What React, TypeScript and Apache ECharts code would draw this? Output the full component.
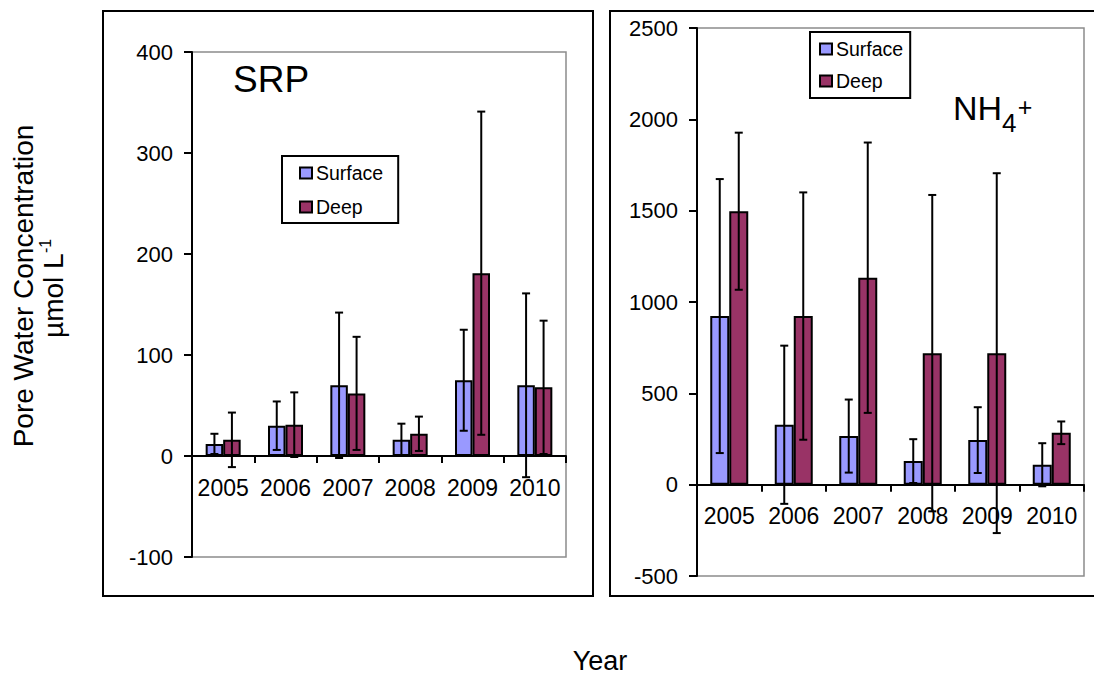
import React, { useEffect, useRef } from 'react';
import * as echarts from 'echarts';

const years = ['2005', '2006', '2007', '2008', '2009', '2010'];
const seriesNames = ['Surface', 'Deep'];

const srpSurface = [12, 30, 70, 16, 75, 70];
const srpSurfaceErr = [10, 24, 72, 16, 50, 91];
const srpDeep = [16, 31, 62, 22, 181, 68];
const srpDeepErr = [27, 32, 56, 17, 160, 66];

const nh4Surface = [923, 328, 266, 129, 244, 109];
const nh4SurfaceErr = [750, 433, 200, 120, 180, 118];
const nh4Deep = [1497, 923, 1133, 720, 720, 284];
const nh4DeepErr = [430, 677, 740, 866, 985, 62];

const srpAxis = { min: -100, max: 400, interval: 100 };
const nh4Axis = { min: -500, max: 2500, interval: 500 };

const FONT = "'Liberation Sans', Arial, sans-serif";
const SURFACE_COLOR = '#9999FF';
const DEEP_COLOR = '#993366';

const grids = [
  { left: 192, top: 52, width: 374, height: 505 },
  { left: 697, top: 28, width: 387, height: 548 },
];

function errSeries(idx: number, means: number[], errs: number[], offset: number) {
  return {
    type: 'custom',
    xAxisIndex: idx,
    yAxisIndex: idx,
    z: 5,
    silent: true,
    clip: false,
    data: means.map((m, i) => [i, m - errs[i], m + errs[i]]),
    encode: { x: 0, y: [1, 2] },
    renderItem: (params: any, api: any) => {
      const c = api.value(0);
      const p1 = api.coord([c, api.value(1)]);
      const p2 = api.coord([c, api.value(2)]);
      const x = p1[0] + offset;
      const st = { stroke: '#000', lineWidth: 2 };
      return {
        type: 'group',
        children: [
          { type: 'line', shape: { x1: x, y1: p1[1], x2: x, y2: p2[1] }, style: st },
          { type: 'line', shape: { x1: x - 4, y1: p1[1], x2: x + 4, y2: p1[1] }, style: st },
          { type: 'line', shape: { x1: x - 4, y1: p2[1], x2: x + 4, y2: p2[1] }, style: st },
        ],
      };
    },
  };
}

function barSeries(idx: number, name: string, data: number[], color: string, width: number) {
  return {
    type: 'bar',
    name,
    xAxisIndex: idx,
    yAxisIndex: idx,
    data,
    barWidth: width,
    barGap: '0%',
    itemStyle: { color, borderColor: '#000', borderWidth: 2 },
  };
}

function xAxisCfg(idx: number, ax: { min: number; max: number }) {
  // place the category axis on the value 0 line of its grid
  const zeroOffset = -(grids[idx].height * (0 - ax.min)) / (ax.max - ax.min);
  return {
    type: 'category',
    gridIndex: idx,
    data: years,
    position: 'bottom',
    offset: zeroOffset,
    axisLine: { show: true, onZero: false, lineStyle: { color: '#000', width: 2 } },
    axisTick: { show: true, length: 7, lineStyle: { color: '#000', width: 2 } },
    axisLabel: { color: '#000', fontSize: 23, fontFamily: FONT, margin: 20, interval: 0 },
    splitLine: { show: false },
  };
}

function yAxisCfg(idx: number, ax: { min: number; max: number; interval: number }) {
  return {
    type: 'value',
    gridIndex: idx,
    min: ax.min,
    max: ax.max,
    interval: ax.interval,
    axisLine: { show: true, lineStyle: { color: '#000', width: 2 } },
    axisTick: { show: true, length: 8, lineStyle: { color: '#000', width: 2 } },
    axisLabel: { color: '#000', fontSize: 22, fontFamily: FONT, margin: 19, formatter: (v: number) => String(v) },
    splitLine: { show: false },
  };
}

export default function App() {
  const ref = useRef<HTMLDivElement>(null);
  useEffect(() => {
    if (!ref.current) return;
    const chart = echarts.init(ref.current, undefined, { renderer: 'svg' });
    const legendBase = {
      data: seriesNames,
      orient: 'vertical',
      itemWidth: 12,
      itemHeight: 11,
      itemStyle: { borderColor: '#000', borderWidth: 2 },
      icon: 'rect',
      borderColor: '#000',
      borderWidth: 2,
      textStyle: { color: '#000', fontSize: 19.5, fontFamily: FONT, lineHeight: 20, padding: [0, 0, 0, -1] },
      selectedMode: false,
    };
    const option: any = {
      animation: false,
      backgroundColor: '#fff',
      grid: grids.map((g) => ({
        ...g,
        show: true,
        borderColor: '#8c8c8c',
        borderWidth: 1.5,
        backgroundColor: 'transparent',
        outerBoundsMode: 'none',
      })),
      xAxis: [xAxisCfg(0, srpAxis), xAxisCfg(1, nh4Axis)],
      yAxis: [yAxisCfg(0, srpAxis), yAxisCfg(1, nh4Axis)],
      legend: [
        { ...legendBase, left: 282, top: 156, padding: [7, 15, 6, 17], itemGap: 14 },
        { ...legendBase, left: 810, top: 32, padding: [7, 7, 7, 9], itemGap: 12 },
      ],
      series: [
        barSeries(0, 'Surface', srpSurface, SURFACE_COLOR, 17.5),
        barSeries(0, 'Deep', srpDeep, DEEP_COLOR, 17.5),
        errSeries(0, srpSurface, srpSurfaceErr, -8.75),
        errSeries(0, srpDeep, srpDeepErr, 8.75),
        barSeries(1, 'Surface', nh4Surface, SURFACE_COLOR, 19),
        barSeries(1, 'Deep', nh4Deep, DEEP_COLOR, 19),
        errSeries(1, nh4Surface, nh4SurfaceErr, -9.5),
        errSeries(1, nh4Deep, nh4DeepErr, 9.5),
      ],
      graphic: [
        { type: 'rect', shape: { x: 103, y: 11, width: 490, height: 585 }, style: { fill: 'none', stroke: '#000', lineWidth: 2 }, z: 0 },
        { type: 'rect', shape: { x: 610, y: 11, width: 500, height: 585 }, style: { fill: 'none', stroke: '#000', lineWidth: 2 }, z: 0 },
        { type: 'text', x: 233, y: 79, style: { text: 'SRP', fontSize: 37, fontFamily: FONT, fill: '#000', verticalAlign: 'middle', align: 'left' } },
        { type: 'text', x: 953, y: 108, style: { text: 'NH', fontSize: 34, fontFamily: FONT, fill: '#000', verticalAlign: 'middle', align: 'left' } },
        { type: 'text', x: 1002, y: 123, style: { text: '4', fontSize: 26, fontFamily: FONT, fill: '#000', verticalAlign: 'middle', align: 'left' } },
        { type: 'text', x: 1025, y: 107, style: { text: '+', fontSize: 25, fontFamily: FONT, fill: '#000', verticalAlign: 'middle', align: 'center' } },
        { type: 'text', x: 600, y: 661, style: { text: 'Year', fontSize: 27, fontFamily: FONT, fill: '#000', verticalAlign: 'middle', align: 'center' } },
        {
          type: 'group',
          x: 38,
          y: 286,
          rotation: Math.PI / 2,
          children: [
            { type: 'text', x: 0, y: -15, style: { text: 'Pore Water Concentration', fontSize: 28, fontFamily: FONT, fill: '#000', verticalAlign: 'middle', align: 'center' } },
            { type: 'text', x: -52, y: 15, style: { text: 'µmol L', fontSize: 28, fontFamily: FONT, fill: '#000', verticalAlign: 'middle', align: 'left' } },
            { type: 'text', x: 33, y: 7, style: { text: '-1', fontSize: 16, fontFamily: FONT, fill: '#000', verticalAlign: 'middle', align: 'left' } },
          ],
        },
      ],
    };
    chart.setOption(option);
    return () => chart.dispose();
  }, []);
  return (
    <div
      ref={ref}
      style={{ position: 'absolute', left: 0, top: 0, width: 1094, height: 675, background: '#fff' }}
    />
  );
}
